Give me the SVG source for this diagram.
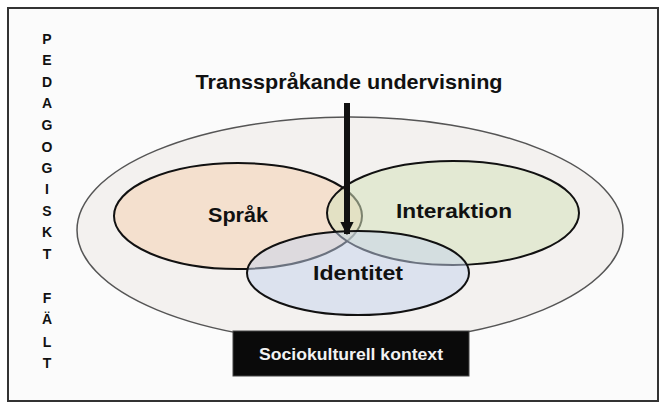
<svg xmlns="http://www.w3.org/2000/svg" width="666" height="407" viewBox="0 0 666 407">
  <style>
    .lbl { font-family: "Liberation Sans", Arial, sans-serif; font-weight: bold; fill: #111; }
    .vert { font-family: "Liberation Sans", Arial, sans-serif; font-weight: bold; font-size: 14px; fill: #111; text-anchor: middle; }
    .circle { stroke: #111; stroke-width: 2; }
  </style>
  <defs>
    <marker id="ah" viewBox="0 0 10 10" refX="9" refY="5" markerWidth="2.2" markerHeight="2.2" orient="auto">
      <path d="M0,0 L10,5 L0,10 z" fill="#111"/>
    </marker>
  </defs>
  <rect x="0" y="0" width="666" height="407" fill="#ffffff"/>
  <rect id="frame" x="8" y="8" width="650" height="393" fill="#fbfbfb" stroke="#333" stroke-width="2"/>

  <g id="vertical-label">
    <text class="vert" x="47" y="44">P</text>
    <text class="vert" x="47" y="65">E</text>
    <text class="vert" x="47" y="87">D</text>
    <text class="vert" x="47" y="108">A</text>
    <text class="vert" x="47" y="130">G</text>
    <text class="vert" x="47" y="152">O</text>
    <text class="vert" x="47" y="173">G</text>
    <text class="vert" x="47" y="194">I</text>
    <text class="vert" x="47" y="216">S</text>
    <text class="vert" x="47" y="237">K</text>
    <text class="vert" x="47" y="259">T</text>
    <text class="vert" x="47" y="303">F</text>
    <text class="vert" x="47" y="324">Ä</text>
    <text class="vert" x="47" y="347">L</text>
    <text class="vert" x="47" y="368">T</text>
  </g>

  <g id="pedagogiskt-falt">
    <ellipse cx="350" cy="230" rx="273" ry="113" fill="#f3f1ef" stroke="#555" stroke-width="1.5"/>
  </g>

  <g id="sprak">
    <ellipse class="circle" cx="238" cy="216" rx="124" ry="53" fill="#f5cfae" fill-opacity="0.5"/>
    <text class="lbl" x="238" y="222" font-size="21" text-anchor="middle" textLength="60" lengthAdjust="spacingAndGlyphs">Språk</text>
  </g>

  <g id="interaktion">
    <ellipse class="circle" cx="453" cy="213" rx="126" ry="52" fill="#d5e2bb" fill-opacity="0.55"/>
    <text class="lbl" x="454" y="218" font-size="21" text-anchor="middle" textLength="116" lengthAdjust="spacingAndGlyphs">Interaktion</text>
  </g>

  <g id="identitet">
    <ellipse class="circle" cx="358" cy="273" rx="111" ry="42" fill="#c5d3ee" fill-opacity="0.5"/>
    <text class="lbl" x="358" y="280" font-size="21" text-anchor="middle" textLength="90" lengthAdjust="spacingAndGlyphs">Identitet</text>
  </g>

  <g id="transsprakande">
    <text class="lbl" x="349" y="89" font-size="21" text-anchor="middle" textLength="307" lengthAdjust="spacingAndGlyphs">Transspråkande undervisning</text>
  </g>

  <g id="connectors">
    <line x1="347" y1="103" x2="347" y2="234" stroke="#111" stroke-width="6" marker-end="url(#ah)"/>
  </g>

  <g id="sociokulturell">
    <rect x="233" y="331" width="236" height="45" fill="#0a0a0a" stroke="#444" stroke-width="1"/>
    <text x="351" y="360" font-family="Liberation Sans, Arial, sans-serif" font-weight="bold" font-size="16" fill="#f2f2f2" text-anchor="middle" textLength="184" lengthAdjust="spacingAndGlyphs">Sociokulturell kontext</text>
  </g>
</svg>
